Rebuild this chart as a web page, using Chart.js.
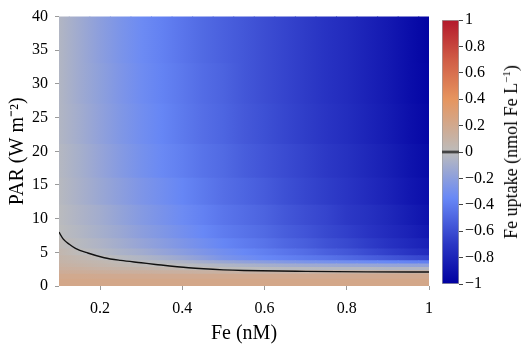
<!DOCTYPE html>
<html><head><meta charset="utf-8">
<script src="https://cdn.jsdelivr.net/npm/chart.js@4/dist/chart.umd.min.js"></script>
<style>
html,body{margin:0;padding:0;background:#fff;}
#wrap{position:relative;width:526px;height:349px;overflow:hidden;}
#wrap canvas{position:absolute;left:0;top:0;}
#cbTitle{position:absolute;left:511px;top:152px;transform:translate(-50%,-50%) rotate(-90deg);white-space:nowrap;font-family:"Liberation Serif",serif;font-size:18px;line-height:1;color:#000;}
#cbTitle sup{font-size:11px;vertical-align:7px;line-height:0;}
</style></head><body>
<div id="wrap">
<canvas id="main" width="526" height="349"></canvas>
<canvas id="cb" width="526" height="349"></canvas>
<div id="cbTitle">Fe uptake (nmol Fe L<sup>−1</sup>)</div>
</div>
<script>
// ---- data ----
const feLevels = [0.1,0.15,0.2,0.25,0.3,0.35,0.4,0.45,0.5,0.55,0.6,0.65,0.7,0.75,0.8,0.85,0.9,0.95,1.0];
const parEdges = [0,1,1.75,2.25,2.75,3.25,3.75,4.5,5.5,7,9,12,16,21,27,33,40];
// uptake[band][fe column], bands from bottom (PAR 0) to top (PAR 40)
const uptake = [
 [0.22,0.22,0.22,0.22,0.22,0.22,0.22,0.22,0.22,0.22,0.22,0.22,0.22,0.22,0.22,0.22,0.22,0.22,0.22],
 [0.20,0.20,0.19,0.19,0.19,0.19,0.19,0.19,0.19,0.19,0.19,0.19,0.19,0.19,0.19,0.19,0.19,0.19,0.19],
 [0.16,0.15,0.14,0.13,0.13,0.12,0.12,0.11,0.11,0.10,0.10,0.10,0.09,0.09,0.09,0.09,0.09,0.09,0.09],
 [0.13,0.12,0.10,0.09,0.08,0.07,0.05,0.03,0.01,0.00,-0.01,-0.02,-0.02,-0.03,-0.03,-0.03,-0.04,-0.04,-0.04],
 [0.11,0.09,0.07,0.05,0.03,0.01,-0.01,-0.03,-0.05,-0.07,-0.09,-0.11,-0.12,-0.13,-0.14,-0.15,-0.16,-0.17,-0.18],
 [0.09,0.07,0.05,0.02,-0.01,-0.03,-0.06,-0.10,-0.14,-0.18,-0.21,-0.24,-0.27,-0.29,-0.31,-0.33,-0.35,-0.37,-0.39],
 [0.08,0.05,0.01,-0.02,-0.05,-0.09,-0.14,-0.20,-0.27,-0.31,-0.35,-0.38,-0.41,-0.44,-0.48,-0.52,-0.56,-0.60,-0.64],
 [0.06,0.01,-0.03,-0.07,-0.11,-0.16,-0.21,-0.26,-0.31,-0.35,-0.39,-0.43,-0.47,-0.52,-0.56,-0.61,-0.66,-0.71,-0.76],
 [0.03,-0.02,-0.06,-0.11,-0.16,-0.21,-0.26,-0.31,-0.36,-0.40,-0.44,-0.49,-0.53,-0.58,-0.62,-0.67,-0.72,-0.77,-0.82],
 [0.00,-0.04,-0.09,-0.14,-0.20,-0.25,-0.30,-0.35,-0.40,-0.44,-0.48,-0.53,-0.57,-0.62,-0.66,-0.71,-0.76,-0.81,-0.87],
 [-0.01,-0.06,-0.11,-0.17,-0.23,-0.28,-0.33,-0.38,-0.43,-0.47,-0.51,-0.56,-0.60,-0.64,-0.69,-0.73,-0.78,-0.84,-0.90],
 [-0.02,-0.08,-0.14,-0.20,-0.26,-0.31,-0.36,-0.41,-0.46,-0.50,-0.54,-0.59,-0.63,-0.67,-0.71,-0.76,-0.81,-0.87,-0.92],
 [-0.03,-0.09,-0.16,-0.23,-0.29,-0.34,-0.39,-0.44,-0.48,-0.53,-0.57,-0.61,-0.65,-0.69,-0.73,-0.78,-0.83,-0.89,-0.94],
 [-0.04,-0.11,-0.18,-0.25,-0.31,-0.36,-0.41,-0.46,-0.50,-0.55,-0.59,-0.63,-0.67,-0.71,-0.75,-0.80,-0.85,-0.91,-0.96],
 [-0.04,-0.12,-0.19,-0.26,-0.32,-0.37,-0.42,-0.47,-0.51,-0.56,-0.60,-0.64,-0.68,-0.72,-0.76,-0.81,-0.86,-0.92,-0.97],
 [-0.04,-0.12,-0.20,-0.27,-0.33,-0.38,-0.43,-0.48,-0.52,-0.56,-0.60,-0.64,-0.68,-0.72,-0.76,-0.81,-0.86,-0.92,-0.98]
];
// zero-uptake contour
const contourFe  = [0.1,0.11,0.125,0.14,0.17,0.21,0.25,0.3,0.335,0.415,0.5,0.55,0.7,0.85,1.0];
const contourPar = [8.0,7.0,6.2,5.6,4.9,4.2,3.8,3.45,3.2,2.7,2.4,2.3,2.17,2.1,2.08];
const xTicks = [0.2,0.4,0.6,0.8,1];
const yTicks = [0,5,10,15,20,25,30,35,40];
const cbTicks = [-1,-0.8,-0.6,-0.4,-0.2,0,0.2,0.4,0.6,0.8,1];
// colour scale
const cmapStops = [[-1,'#0000a0'],[-0.7,'#2a36c4'],[-0.35,'#6888f6'],[0,'#bcbcbc'],[0.4,'#e6955f'],[0.7,'#d05c46'],[1,'#b3182b']];

function hexRgb(h){return [parseInt(h.slice(1,3),16),parseInt(h.slice(3,5),16),parseInt(h.slice(5,7),16)];}
function valueToColor(v){
  if (v <= cmapStops[0][0]) return cmapStops[0][1];
  for (let i=1;i<cmapStops.length;i++){
    if (v <= cmapStops[i][0]){
      const [v0,c0]=cmapStops[i-1],[v1,c1]=cmapStops[i];
      const t=(v-v0)/(v1-v0), a=hexRgb(c0), b=hexRgb(c1);
      return 'rgb('+a.map((x,k)=>Math.round(x+(b[k]-x)*t)).join(',')+')';
    }
  }
  return cmapStops[cmapStops.length-1][1];
}

// smooth raster look: each band is shaded across Fe through the read cell values
function rowFill(r){
  return (ctx) => {
    const ch = ctx.chart, xs = ch.scales && ch.scales.x;
    const fallback = valueToColor(uptake[r][ctx.dataIndex || 0]);
    if (!xs) return fallback;
    const x0 = xs.getPixelForValue(feLevels[0]), x1 = xs.getPixelForValue(feLevels[feLevels.length-1]);
    if (!isFinite(x0) || !isFinite(x1) || x1 <= x0) return fallback;
    const g = ch.ctx.createLinearGradient(x0, 0, x1, 0);
    feLevels.forEach((fe, i) => {
      g.addColorStop((xs.getPixelForValue(fe) - x0) / (x1 - x0), valueToColor(uptake[r][i]));
    });
    return g;
  };
}

const serif = 'Liberation Serif';

const heatDatasets = uptake.map((row, r) => ({
  type: 'bar',
  data: feLevels.map(fe => ({x: fe, y: [parEdges[r], parEdges[r+1]]})),
  backgroundColor: rowFill(r),
  borderWidth: 0,
  inflateAmount: 0.5,
  grouped: false,
  categoryPercentage: 1,
  barPercentage: 1,
  clip: 0,
  order: 2
}));

const contourDataset = {
  type: 'line',
  data: contourFe.map((x, i) => ({x, y: contourPar[i]})),
  borderColor: '#111',
  borderWidth: 1.4,
  pointRadius: 0,
  cubicInterpolationMode: 'monotone',
  fill: false,
  clip: 0,
  order: 0
};

const axisGrid = {display: true, drawOnChartArea: false, drawTicks: true, tickLength: 4, color: '#9a9a9a', offset: false};

new Chart(document.getElementById('main'), {
  type: 'bar',
  data: {datasets: [...heatDatasets, contourDataset]},
  options: {
    responsive: false, animation: false,
    layout: {padding: {top: 15, right: 97, bottom: 0, left: 0}},
    plugins: {legend: {display: false}, tooltip: {enabled: false}},
    scales: {
      x: {
        type: 'linear', min: 0.1, max: 1, offset: false,
        afterBuildTicks: s => { s.ticks = xTicks.map(v => ({value: v})); },
        afterFit: s => { s.height = 63; },
        grid: axisGrid, border: {display: false},
        ticks: {font: {family: serif, size: 16}, color: '#000', padding: 9, maxRotation: 0, callback: v => String(Math.round(v*10)/10)},
        title: {display: true, text: 'Fe (nM)', font: {family: serif, size: 20}, color: '#000', padding: {top: 0, bottom: 3}}
      },
      y: {
        type: 'linear', min: 0, max: 40,
        afterBuildTicks: s => { s.ticks = yTicks.map(v => ({value: v})); },
        afterFit: s => { s.width = 59; },
        grid: axisGrid, border: {display: false},
        ticks: {font: {family: serif, size: 16}, color: '#000', padding: 7, callback: v => String(v)},
        title: {display: true, text: 'PAR (W m⁻²)', font: {family: serif, size: 20}, color: '#000', padding: {top: 6, bottom: 0}}
      }
    }
  }
});

function gradientFill(ctx){
  const ch = ctx.chart, ys = ch.scales && ch.scales.y;
  if (!ys) return '#bcbcbc';
  const y0 = ys.getPixelForValue(-1), y1 = ys.getPixelForValue(1);
  if (!isFinite(y0) || !isFinite(y1) || y0 === y1) return '#bcbcbc';
  const g = ch.ctx.createLinearGradient(0, y0, 0, y1);
  cmapStops.forEach(([v, c]) => g.addColorStop((v + 1) / 2, c));
  return g;
}

new Chart(document.getElementById('cb'), {
  type: 'bar',
  data: {
    labels: ['scale'],
    datasets: [
      {data: [[-0.008, 0.008]], backgroundColor: '#444', borderWidth: 0, grouped: false, categoryPercentage: 1, barPercentage: 1, order: 0},
      {data: [[-1, 1]], backgroundColor: gradientFill, borderColor: '#a0a0a0', borderWidth: 1, borderSkipped: false, grouped: false, categoryPercentage: 1, barPercentage: 1, order: 1}
    ]
  },
  options: {
    responsive: false, animation: false,
    layout: {padding: {left: 442, top: 20, bottom: 65, right: 0}},
    plugins: {legend: {display: false}, tooltip: {enabled: false}},
    scales: {
      x: {display: false},
      y: {
        position: 'right', min: -1, max: 1,
        afterBuildTicks: s => { s.ticks = cbTicks.map(v => ({value: v})); },
        afterFit: s => { s.width = 67; },
        grid: {display: true, drawOnChartArea: false, drawTicks: true, tickLength: 4, color: '#444'},
        border: {display: false},
        ticks: {font: {family: serif, size: 16}, color: '#000', padding: 2,
          callback: v => { const r = Math.round(v*10)/10; return r < 0 ? '−' + Math.abs(r) : String(r); }}
      }
    }
  }
});
</script>
</body></html>
